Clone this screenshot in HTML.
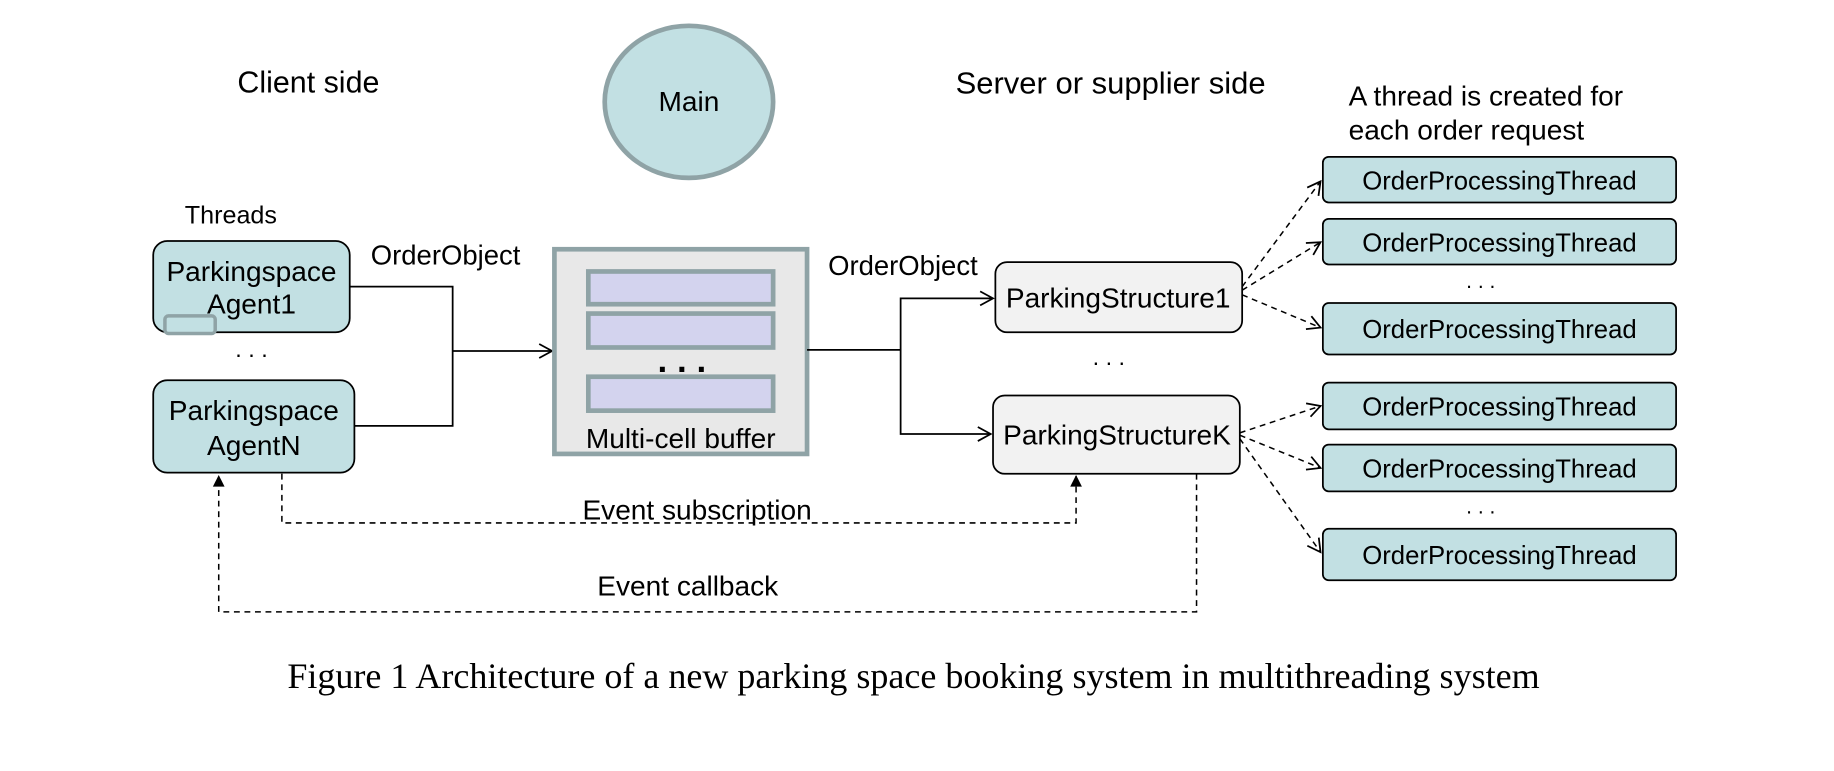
<!DOCTYPE html>
<html><head><style>html,body{margin:0;padding:0;background:#fff}svg{display:block}</style></head><body>
<svg width="1834" height="771" viewBox="0 0 1568 659" xmlns="http://www.w3.org/2000/svg" font-family="Liberation Sans, sans-serif">
<defs>
<marker id="oa" markerWidth="14" markerHeight="14" refX="12" refY="7" orient="auto" markerUnits="userSpaceOnUse"><path d="M1,1 L12,7 L1,13" fill="none" stroke="#000" stroke-width="1.5"/></marker>
<marker id="fa" markerWidth="12" markerHeight="12" refX="11" refY="6" orient="auto" markerUnits="userSpaceOnUse"><path d="M1,1 L11,6 L1,11 Z" fill="#000"/></marker>
</defs>
<rect width="1568" height="659" fill="#fff"/>
<text x="203" y="79" font-size="26">Client side</text>
<ellipse cx="589" cy="87" rx="72" ry="65" fill="#c2e0e3" stroke="#8fa3a6" stroke-width="4"/>
<text x="589" y="95" font-size="24" text-anchor="middle">Main</text>
<text x="817" y="80" font-size="26.5">Server or supplier side</text>
<text x="1153" y="90" font-size="24">A thread is created for</text>
<text x="1153" y="119" font-size="24">each order request</text>
<text x="158" y="191" font-size="21.5">Threads</text>
<rect x="131" y="206" width="168" height="78" rx="12" fill="#c2e0e3" stroke="#000" stroke-width="1.5"/>
<text x="215" y="240" font-size="24" text-anchor="middle">Parkingspace</text>
<text x="215" y="268" font-size="24" text-anchor="middle">Agent1</text>
<rect x="141" y="270" width="43" height="15" rx="3" fill="#c2e0e3" stroke="#8fa3a6" stroke-width="3"/>
<text x="215" y="305" font-size="20" text-anchor="middle">. . .</text>
<rect x="131" y="325" width="172" height="79" rx="12" fill="#c2e0e3" stroke="#000" stroke-width="1.5"/>
<text x="217" y="359" font-size="24" text-anchor="middle">Parkingspace</text>
<text x="217" y="389" font-size="24" text-anchor="middle">AgentN</text>
<text x="317" y="226" font-size="23.5">OrderObject</text>
<path d="M299,245 H387 V364 H303 M387,300 H472" fill="none" stroke="#000" stroke-width="1.5" marker-end="url(#oa)"/>
<rect x="474" y="213" width="216" height="175" fill="#e8e8e8" stroke="#8fa3a6" stroke-width="4"/>
<rect x="503" y="232" width="158" height="28" fill="#d3d3ee" stroke="#8fa3a6" stroke-width="4"/>
<rect x="503" y="268" width="158" height="29" fill="#d3d3ee" stroke="#8fa3a6" stroke-width="4"/>
<rect x="503" y="322" width="158" height="29" fill="#d3d3ee" stroke="#8fa3a6" stroke-width="4"/>
<text x="583" y="318" font-size="30" font-weight="bold" text-anchor="middle">. . .</text>
<text x="582" y="383" font-size="24" text-anchor="middle">Multi-cell buffer</text>
<text x="708" y="235" font-size="23.5">OrderObject</text>
<path d="M690,299 H770 V255 H849" fill="none" stroke="#000" stroke-width="1.5" marker-end="url(#oa)"/>
<path d="M770,299 V371 H847" fill="none" stroke="#000" stroke-width="1.5" marker-end="url(#oa)"/>
<rect x="851" y="224" width="211" height="60" rx="10" fill="#f2f2f2" stroke="#000" stroke-width="1.5"/>
<text x="956" y="263" font-size="24" text-anchor="middle">ParkingStructure1</text>
<text x="948" y="312" font-size="20" text-anchor="middle">. . .</text>
<rect x="849" y="338" width="211" height="67" rx="10" fill="#f2f2f2" stroke="#000" stroke-width="1.5"/>
<text x="955" y="380" font-size="24" text-anchor="middle">ParkingStructureK</text>
<g fill="#c2e0e3" stroke="#000" stroke-width="1.5">
<rect x="1131" y="134" width="302" height="39" rx="5"/>
<rect x="1131" y="187" width="302" height="39" rx="5"/>
<rect x="1131" y="259" width="302" height="44" rx="5"/>
<rect x="1131" y="327" width="302" height="40" rx="5"/>
<rect x="1131" y="380" width="302" height="40" rx="5"/>
<rect x="1131" y="452" width="302" height="44" rx="5"/>
</g>
<g font-size="22" text-anchor="middle">
<text x="1282" y="162">OrderProcessingThread</text>
<text x="1282" y="215">OrderProcessingThread</text>
<text x="1282" y="289">OrderProcessingThread</text>
<text x="1282" y="355">OrderProcessingThread</text>
<text x="1282" y="408">OrderProcessingThread</text>
<text x="1282" y="482">OrderProcessingThread</text>
<text x="1266" y="246" font-size="18">. . .</text>
<text x="1266" y="439" font-size="18">. . .</text>
</g>
<g fill="none" stroke="#000" stroke-width="1.3" stroke-dasharray="5,4">
<path d="M1062,245 L1129,155" marker-end="url(#oa)"/>
<path d="M1062,248 L1129,207" marker-end="url(#oa)"/>
<path d="M1062,252 L1129,280" marker-end="url(#oa)"/>
<path d="M1060,370 L1129,347" marker-end="url(#oa)"/>
<path d="M1060,372 L1129,400" marker-end="url(#oa)"/>
<path d="M1060,375 L1129,472" marker-end="url(#oa)"/>
<path d="M241,405 V447 H920 V406" marker-end="url(#fa)"/>
<path d="M1023,405 V523 H187 V406" marker-end="url(#fa)"/>
</g>
<text x="596" y="444" font-size="24" text-anchor="middle">Event subscription</text>
<text x="588" y="509" font-size="24" text-anchor="middle">Event callback</text>
<text x="781" y="588" font-size="30.8" text-anchor="middle" font-family="Liberation Serif, serif">Figure 1 Architecture of a new parking space booking system in multithreading system</text>
</svg>
</body></html>
